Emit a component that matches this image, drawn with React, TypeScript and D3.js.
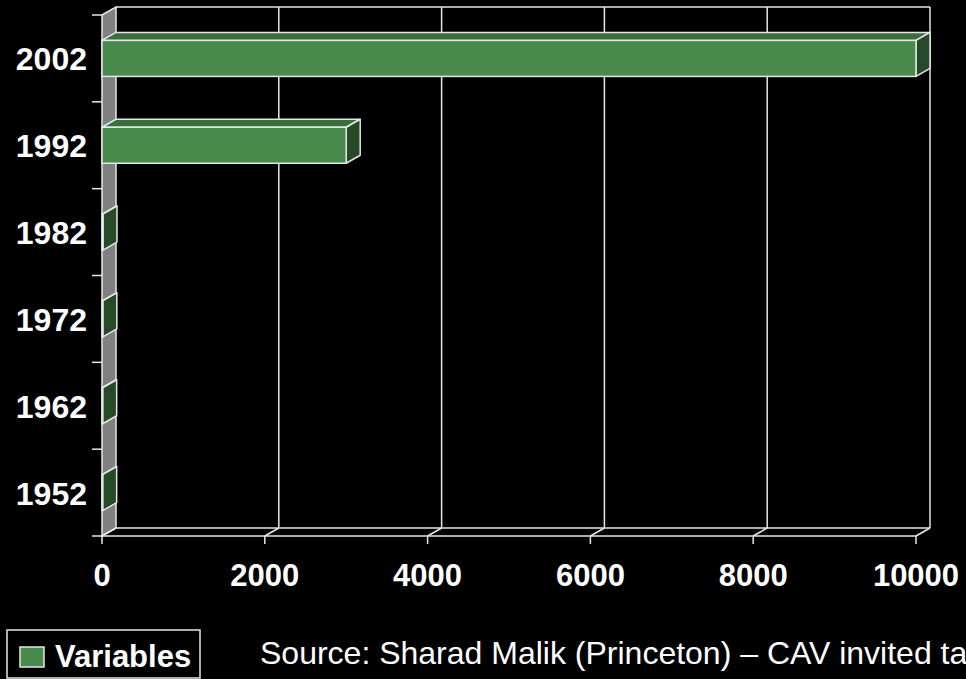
import React from "react";
import * as d3 from "d3";

const years = ["1952", "1962", "1972", "1982", "1992", "2002"];
const variables = [8, 8, 10, 12, 3000, 10000];
const xTicks = [0, 2000, 4000, 6000, 8000, 10000];
const seriesName = "Variables";
const sourceText = "Source: Sharad Malik (Princeton) – CAV invited talk";

const W = 966;
const H = 679;
const DX = 14;
const DY = 8;
const FONT = "'Liberation Sans', Arial, sans-serif";
const STROKE = "#e6e6e6";

export default function App() {
  const x = d3.scaleLinear().domain([0, 10000]).range([102, 916]);
  const y = d3
    .scaleBand<string>()
    .domain([...years].reverse())
    .range([15, 536])
    .paddingInner(0)
    .paddingOuter(0);
  const bw = y.bandwidth();
  const barH = 36;
  const top = 15;
  const bottom = 536;
  const x0 = x(0);
  const poly = (pts: [number, number][]) => pts.map((p) => p.join(",")).join(" ");

  const bandEdges = [...years].reverse().map((d) => y(d) as number).concat([bottom]);

  return (
    <svg
      width={W}
      height={H}
      style={{ position: "absolute", left: 0, top: 0, background: "#000" }}
    >
      <rect x={0} y={0} width={W} height={H} fill="#000" />
      {/* back wall frame */}
      <line x1={x0 + DX} y1={top - DY} x2={x(10000) + DX} y2={top - DY} stroke={STROKE} strokeWidth={1.5} />
      {xTicks.slice(1).map((t) => (
        <line key={"g" + t} x1={x(t) + DX} y1={top - DY} x2={x(t) + DX} y2={bottom - DY} stroke={STROKE} strokeWidth={1.5} />
      ))}
      {/* left wall */}
      <polygon
        points={poly([
          [x0, top],
          [x0 + DX, top - DY],
          [x0 + DX, bottom - DY],
          [x0, bottom],
        ])}
        fill="#808080"
        stroke={STROKE}
        strokeWidth={1.5}
      />
      {/* floor */}
      <line x1={x0 + DX} y1={bottom - DY} x2={x(10000) + DX} y2={bottom - DY} stroke={STROKE} strokeWidth={1.5} />
      <line x1={x0} y1={bottom} x2={x(10000)} y2={bottom} stroke={STROKE} strokeWidth={1.5} />
      {xTicks.map((t) => (
        <g key={"f" + t}>
          <line x1={x(t)} y1={bottom} x2={x(t) + DX} y2={bottom - DY} stroke={STROKE} strokeWidth={1.5} />
          <line x1={x(t)} y1={bottom} x2={x(t)} y2={bottom + 8} stroke={STROKE} strokeWidth={1.5} />
          <text
            x={x(t)}
            y={586}
            textAnchor="middle"
            fill="#fff"
            fontFamily={FONT}
            fontWeight="bold"
            fontSize={31}
          >
            {t}
          </text>
        </g>
      ))}
      {/* y ticks */}
      {bandEdges.map((e, i) => (
        <line key={"yt" + i} x1={92} y1={e} x2={x0} y2={e} stroke={STROKE} strokeWidth={1.5} />
      ))}
      {/* bars */}
      {years.map((yr, i) => {
        const cy = (y(yr) as number) + bw / 2;
        const t0 = cy - barH / 2;
        const b0 = cy + barH / 2;
        const xv = x(variables[i]);
        return (
          <g key={yr}>
            <polygon
              points={poly([
                [x0, t0],
                [x0 + DX, t0 - DY],
                [xv + DX, t0 - DY],
                [xv, t0],
              ])}
              fill="#3a6e3c"
              stroke={STROKE}
              strokeWidth={1.5}
              strokeLinejoin="round"
            />
            <polygon
              points={poly([
                [xv, t0],
                [xv + DX, t0 - DY],
                [xv + DX, b0 - DY],
                [xv, b0],
              ])}
              fill="#264a28"
              stroke={STROKE}
              strokeWidth={1.5}
              strokeLinejoin="round"
            />
            <rect
              x={x0}
              y={t0}
              width={xv - x0}
              height={barH}
              fill="#488a4b"
              stroke={STROKE}
              strokeWidth={1.5}
            />
            <text
              x={87}
              y={cy + 12}
              textAnchor="end"
              fill="#fff"
              fontFamily={FONT}
              fontWeight="bold"
              fontSize={32}
            >
              {yr}
            </text>
          </g>
        );
      })}
      {/* legend */}
      <rect x={7} y={630} width={193} height={48} fill="#000" stroke={STROKE} strokeWidth={1.5} />
      <rect x={20} y={647} width={24} height={20} fill="#488a4b" stroke={STROKE} strokeWidth={1.5} />
      <text x={55} y={667} fill="#fff" fontFamily={FONT} fontWeight="bold" fontSize={31}>
        {seriesName}
      </text>
      <text x={260} y={664} fill="#fff" fontFamily={FONT} fontSize={32}>
        {sourceText}
      </text>
    </svg>
  );
}
